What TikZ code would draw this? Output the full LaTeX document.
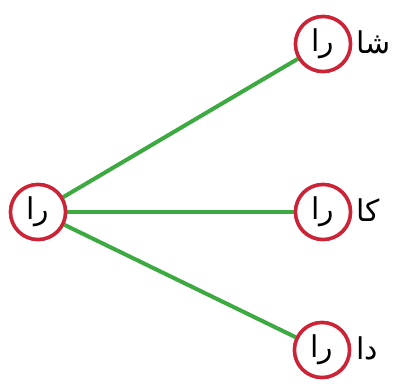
\documentclass[tikz,border=0pt]{standalone}
\usepackage{fontspec}
\TeXXeTstate=1
\newfontfamily\arabicfont[Script=Arabic]{DejaVu Sans}
\definecolor{ringred}{RGB}{205,35,55}
\definecolor{linkgreen}{RGB}{60,170,65}
\begin{document}
\begin{tikzpicture}[x=1pt,y=-1pt,
  circ/.style={circle, draw=ringred, line width=3.5pt, fill=white, minimum size=55pt, inner sep=0pt,
    font=\arabicfont\fontsize{30}{30}\selectfont},
  link/.style={draw=linkgreen, line width=4pt},
  lab/.style={anchor=west, inner sep=0pt, font=\arabicfont\fontsize{30}{30}\selectfont}]
\useasboundingbox (0,0) rectangle (417,387);
\node[circ] (L) at (38,212) {\beginR را\endR};
\node[circ] (A) at (323,44) {\beginR را\endR};
\node[circ] (B) at (323,212) {\beginR را\endR};
\node[circ] (C) at (322,350) {\beginR را\endR};
\draw[link] (L) -- (A);
\draw[link] (L) -- (B);
\draw[link] (L) -- (C);
\node[circ] at (L) {\beginR را\endR};
\node[circ] at (A) {\beginR را\endR};
\node[circ] at (B) {\beginR را\endR};
\node[circ] at (C) {\beginR را\endR};
\node[lab] (la) at (356,42) {\beginR شا\endR};
\node[lab] (lb) at (356,210) {\beginR کا\endR};
\node[lab] (lc) at (356,348) {\beginR دا\endR};
\end{tikzpicture}
\end{document}
